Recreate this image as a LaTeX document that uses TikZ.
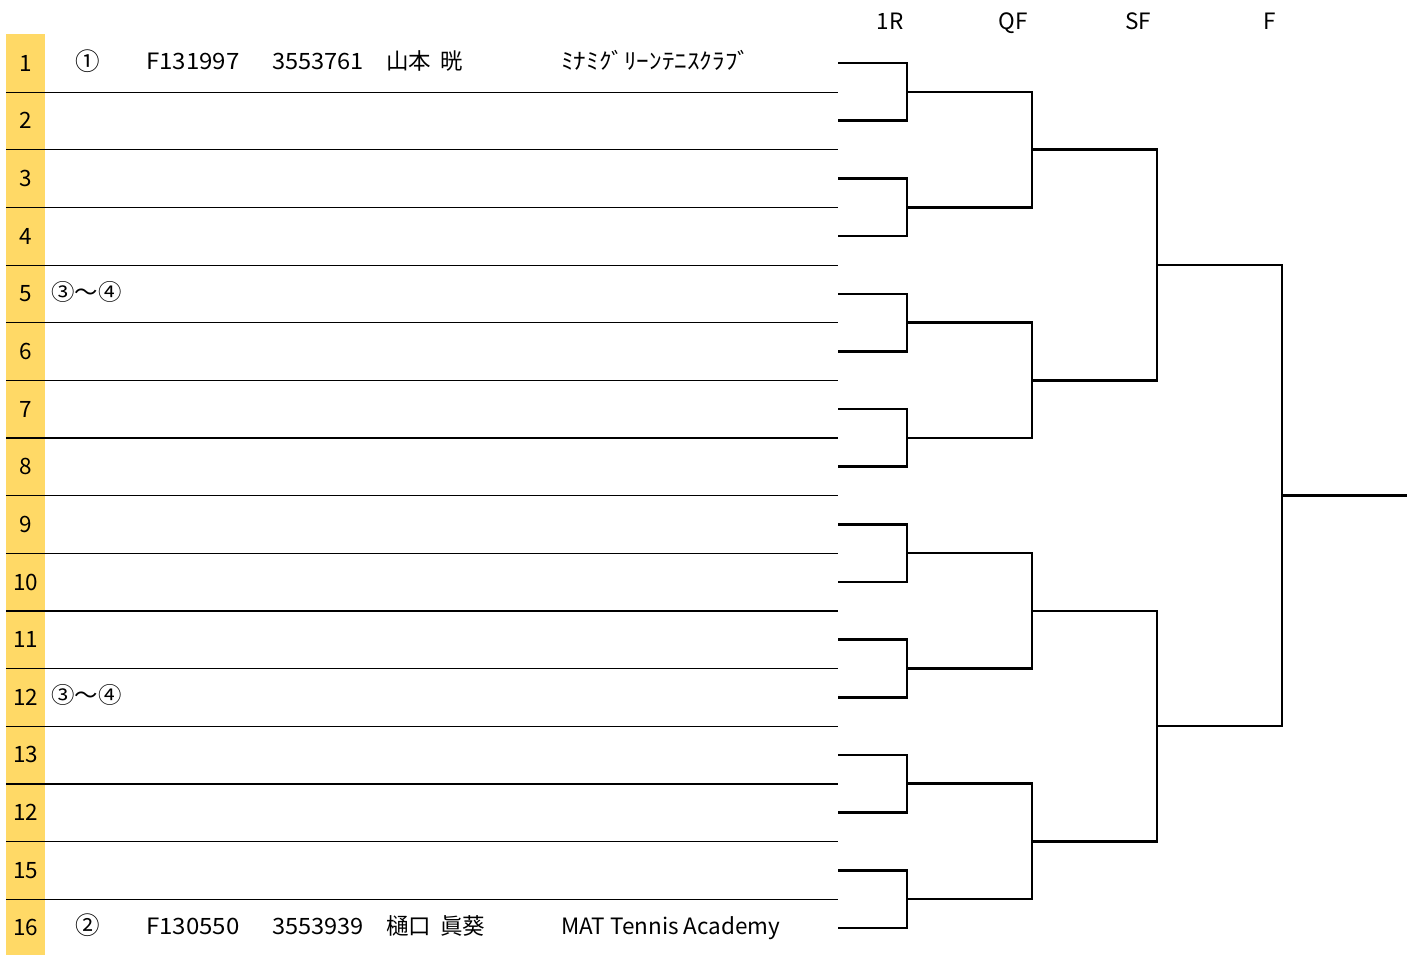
\documentclass[tikz,border=0pt]{standalone}
\usepackage{fontspec}
\setmainfont{Noto Sans CJK JP}
\usepackage{tikz}
\usetikzlibrary{positioning,calc}

\definecolor{cellyellow}{RGB}{255,217,102}

\tikzset{
	numcell/.style={fill=cellyellow, minimum width=39pt, minimum height=57.64pt, inner sep=0pt, font=\fontsize{22.5}{22.5}\selectfont},
	cell/.style={anchor=base west, inner sep=0pt, font=\fontsize{22.5}{22.5}\selectfont},
	seedmark/.style={anchor=base, inner sep=0pt, font=\fontsize{24.5}{24.5}\selectfont},
	roundhead/.style={anchor=base, inner sep=0pt, font=\fontsize{22.5}{22.5}\selectfont},
	sepline/.style={line width=1.2pt},
	bracket/.style={line width=2.6pt, line join=miter}
}

\begin{document}
\begin{tikzpicture}[x=1pt, y=-1pt]
			\begingroup
			\useasboundingbox (0,0) rectangle (1413,955);
			
			% round titles
			\node[roundhead] (h1r) at (890,29.5) {1R};
			\node[roundhead] (hqf) at (1013,29.5) {QF};
			\node[roundhead] (hsf) at (1138,29.5) {SF};
			\node[roundhead] (hf) at (1270,29.5) {F};
			
			% draw slots
			\node[numcell] (n1) at (25.5,63.2) {1};
			\node[numcell] (n2) at (25.5,120.8) {2};
			\node[numcell] (n3) at (25.5,178.5) {3};
			\node[numcell] (n4) at (25.5,236.1) {4};
			\node[numcell] (n5) at (25.5,293.8) {5};
			\node[numcell] (n6) at (25.5,351.4) {6};
			\node[numcell] (n7) at (25.5,409.0) {7};
			\node[numcell] (n8) at (25.5,466.7) {8};
			\node[numcell] (n9) at (25.5,524.3) {9};
			\node[numcell] (n10) at (25.5,582.0) {10};
			\node[numcell] (n11) at (25.5,639.6) {11};
			\node[numcell] (n12) at (25.5,697.2) {12};
			\node[numcell] (n13) at (25.5,754.9) {13};
			\node[numcell] (n14) at (25.5,812.5) {12};
			\node[numcell] (n15) at (25.5,870.2) {15};
			\node[numcell] (n16) at (25.5,927.8) {16};
			
			% players
			\node[seedmark] (s1) at (88,70.2) {①};
			\node[cell] (reg1) at (146,69.7) {\scalebox{1.07}[1]{F131997}};
			\node[cell] (id1) at (272,69.7) {\scalebox{1.05}[1]{3553761}};
			\node[cell] (name1) at (386,69.7) {山本\hspace{0.4em}晄};
			\node[cell] (club1) at (561,69.7) {\scalebox{1.12}[1]{ﾐﾅﾐｸﾞﾘｰﾝﾃﾆｽｸﾗﾌﾞ}};
			
			\node[cell] (s5) at (51,300.3) {\scalebox{1.04}[1]{③〜④}};
			\node[cell] (s12) at (51,703.7) {\scalebox{1.04}[1]{③〜④}};
			
			\node[seedmark] (s16) at (88,934.8) {②};
			\node[cell] (reg16) at (146,934.3) {\scalebox{1.07}[1]{F130550}};
			\node[cell] (id16) at (272,934.3) {\scalebox{1.05}[1]{3553939}};
			\node[cell] (name16) at (386,934.3) {樋口\hspace{0.4em}眞葵};
			\node[cell] (club16) at (561,934.3) {MAT Tennis Academy};
			
			% bracket points
			\coordinate (e1) at (838,63.2);
			\coordinate (e2) at (838,120.8);
			\coordinate (e3) at (838,178.5);
			\coordinate (e4) at (838,236.1);
			\coordinate (e5) at (838,293.8);
			\coordinate (e6) at (838,351.4);
			\coordinate (e7) at (838,409.0);
			\coordinate (e8) at (838,466.7);
			\coordinate (e9) at (838,524.3);
			\coordinate (e10) at (838,582.0);
			\coordinate (e11) at (838,639.6);
			\coordinate (e12) at (838,697.2);
			\coordinate (e13) at (838,754.9);
			\coordinate (e14) at (838,812.5);
			\coordinate (e15) at (838,870.2);
			\coordinate (e16) at (838,927.8);
			
			\coordinate (r1) at (907,92.0);
			\coordinate (r2) at (907,207.3);
			\coordinate (r3) at (907,322.6);
			\coordinate (r4) at (907,437.8);
			\coordinate (r5) at (907,553.1);
			\coordinate (r6) at (907,668.4);
			\coordinate (r7) at (907,783.7);
			\coordinate (r8) at (907,899.0);
			
			\coordinate (q1) at (1032,149.6);
			\coordinate (q2) at (1032,380.2);
			\coordinate (q3) at (1032,610.8);
			\coordinate (q4) at (1032,841.3);
			
			\coordinate (sf1) at (1157,264.9);
			\coordinate (sf2) at (1157,726.0);
			
			\coordinate (fin) at (1282,495.5);
			\coordinate (win) at (1407,495.5);
			
			% row lines
			\draw[sepline] (n1.south west) -- (n1.south west -| e1);
			\draw[sepline] (n2.south west) -- (n2.south west -| e1);
			\draw[sepline] (n3.south west) -- (n3.south west -| e1);
			\draw[sepline] (n4.south west) -- (n4.south west -| e1);
			\draw[sepline] (n5.south west) -- (n5.south west -| e1);
			\draw[sepline] (n6.south west) -- (n6.south west -| e1);
			\draw[sepline] (n7.south west) -- (n7.south west -| e1);
			\draw[sepline] (n8.south west) -- (n8.south west -| e1);
			\draw[sepline] (n9.south west) -- (n9.south west -| e1);
			\draw[sepline] (n10.south west) -- (n10.south west -| e1);
			\draw[sepline] (n11.south west) -- (n11.south west -| e1);
			\draw[sepline] (n12.south west) -- (n12.south west -| e1);
			\draw[sepline] (n13.south west) -- (n13.south west -| e1);
			\draw[sepline] (n14.south west) -- (n14.south west -| e1);
			\draw[sepline] (n15.south west) -- (n15.south west -| e1);
			
			% 1R
			\draw[bracket] (e1) -| (r1) |- (e2);
			\draw[bracket] (e3) -| (r2) |- (e4);
			\draw[bracket] (e5) -| (r3) |- (e6);
			\draw[bracket] (e7) -| (r4) |- (e8);
			\draw[bracket] (e9) -| (r5) |- (e10);
			\draw[bracket] (e11) -| (r6) |- (e12);
			\draw[bracket] (e13) -| (r7) |- (e14);
			\draw[bracket] (e15) -| (r8) |- (e16);
			
			% QF
			\draw[bracket] (r1) -| (q1) |- (r2);
			\draw[bracket] (r3) -| (q2) |- (r4);
			\draw[bracket] (r5) -| (q3) |- (r6);
			\draw[bracket] (r7) -| (q4) |- (r8);
			
			% SF
			\draw[bracket] (q1) -| (sf1) |- (q2);
			\draw[bracket] (q3) -| (sf2) |- (q4);
			
			% F
			\draw[bracket] (sf1) -| (fin) |- (sf2);
			\draw[bracket] (fin) -- (win);
			
			\endgroup
\end{tikzpicture}
\end{document}
